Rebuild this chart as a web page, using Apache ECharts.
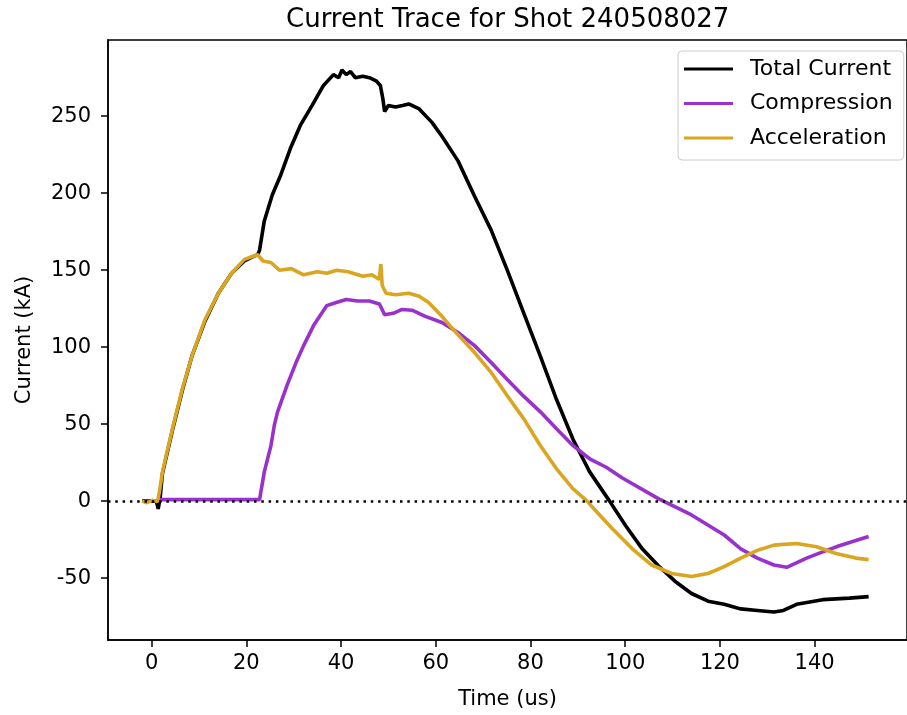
<!DOCTYPE html>
<html>
<head>
<meta charset="utf-8">
<script src="https://cdn.jsdelivr.net/npm/echarts@6/dist/echarts.min.js"></script>
<style>html,body{margin:0;padding:0;background:#fff}#c{width:907px;height:715px}</style>
</head>
<body>
<div id="c"></div>
<script>
// ---- data ----
const seriesNames = ['Total Current', 'Compression', 'Acceleration'];
const xTicks = [0, 20, 40, 60, 80, 100, 120, 140];
const yTicks = [-50, 0, 50, 100, 150, 200, 250];

const timeTotal = [-2, 1.0, 1.4, 1.8, 2.3, 4.4, 6.5, 8.5, 11.3, 14.1, 16.9, 19.6, 21.5, 22.4, 22.8, 23.8, 25.5, 27.3, 29.3, 31.4, 33.9, 36.3, 38.4, 39.5, 40.2, 41.1, 42.0, 43.0, 44.6, 46.0, 47.4, 48.3, 48.8, 49.2, 50.0, 51.5, 53.0, 54.3, 56.4, 59.2, 61.3, 64.7, 68.2, 71.7, 75.1, 78.6, 82.1, 85.5, 89, 92.5, 96.7, 100.1, 103.6, 107, 110.5, 114, 117.5, 120.9, 124.4, 127.9, 131.4, 133.4, 136.2, 141.7, 147.3, 151.4];
const currentTotal = [0, 0, -5, 2, 18, 46, 72, 94, 117, 135, 148, 156, 159, 160, 163, 182, 199, 212, 229, 244, 257, 270, 277, 275, 280, 277, 279, 275, 276, 275, 273, 270, 262, 253, 257, 256, 257, 258, 255, 246, 237, 221, 198, 176, 150, 122, 94, 66, 40, 19, 0, -16, -31, -42, -52, -60, -65, -67, -70, -71, -72, -71, -67, -64, -63, -62];

const timeComp = [1.6, 10, 20, 22.8, 23.8, 25.2, 25.9, 26.6, 28.7, 30.5, 32.1, 34.2, 37, 39, 41.1, 43.5, 46, 48.1, 48.6, 49.2, 51, 52.9, 55, 57.1, 57.8, 61.3, 64.7, 68.2, 71.7, 75.1, 78.6, 82.1, 85.5, 89, 92.5, 96, 99.4, 107, 114, 120.9, 124.4, 127.9, 131.4, 134.1, 138.3, 141.7, 145.2, 151.4];
const currentComp = [1, 1, 1, 1, 19, 36, 49, 58, 76, 90, 101, 114, 127, 129, 131, 130, 130, 128, 125, 121, 122, 124.5, 124, 121, 120, 116, 109.5, 101, 90, 79, 68, 58, 47, 36, 27.5, 22, 15, 1.6, -9, -22, -31, -37, -41.5, -43, -37, -33, -29, -23];

const timeAcc = [-2, -1, 0.2, 1.25, 1.6, 2.3, 4.4, 6.5, 8.5, 11.3, 14.1, 16.9, 19.6, 22.4, 23.5, 25.2, 27, 29.5, 32.1, 35, 37, 39.1, 41.5, 44.6, 46.5, 48.1, 48.4, 48.7, 49.5, 51.5, 54.3, 56.5, 58.5, 61.3, 64.7, 68.2, 71.7, 75.1, 78.6, 82.1, 85.5, 89, 91.8, 94.6, 97.3, 101.5, 105.6, 109.8, 114, 117.5, 120.9, 124.4, 127.9, 131.4, 136.2, 140.4, 144.5, 148.7, 151.4];
const currentAcc = [0, -1, 0.5, -0.3, 5, 19, 47, 73, 94, 118, 135, 148, 157, 160, 156, 155, 150, 151, 147, 149, 148, 150, 149, 146, 147, 144, 154, 140, 135, 134, 135, 133, 129, 120, 108, 96.5, 83.6, 68.4, 53.4, 36, 21, 8, 0.5, -9, -18, -31, -41.5, -47, -49, -47, -42.6, -37, -32, -28.6, -27.5, -29.6, -34, -37, -38];

const zeroLevel = 0;
// ---------------------------------------

const FONT = 'DejaVu Sans';
const pair = (xs, ys) => xs.map((x, i) => [x, ys[i]]);

const chart = echarts.init(document.getElementById('c'), null, {renderer: 'canvas'});
chart.setOption({
  animation: false,
  backgroundColor: '#ffffff',
  title: {
    text: 'Current Trace for Shot 240508027',
    left: 281, top: 2,
    textStyle: {fontSize: 26, fontWeight: 'normal', color: '#000', fontFamily: FONT}
  },
  legend: {
    data: seriesNames,
    orient: 'vertical',
    left: 678, top: 51,
    icon: 'rect',
    itemWidth: 49, itemHeight: 3, itemGap: 10.5,
    padding: [6, 11, 10, 6],
    backgroundColor: '#ffffff',
    borderColor: '#cccccc', borderWidth: 1, borderRadius: 4,
    textStyle: {fontSize: 22, color: '#000', fontFamily: FONT, lineHeight: 24, padding: [0, 0, 0, 12]}
  },
  grid: {
    left: 108, top: 40, right: -11.6, bottom: 71.5,
    show: true, borderColor: '#000', borderWidth: 1.5, backgroundColor: 'transparent'
  },
  xAxis: {
    type: 'value', min: -9.2, max: 159.5,
    name: 'Time (us)', nameLocation: 'middle', nameGap: 49,
    nameTextStyle: {fontSize: 21, color: '#000', fontFamily: FONT},
    axisLine: {show: true, onZero: false, lineStyle: {color: '#000', width: 1.5}},
    axisTick: {show: true, inside: false, customValues: xTicks, length: 7, lineStyle: {color: '#000', width: 1.5}},
    axisLabel: {customValues: xTicks, fontSize: 21, color: '#000', fontFamily: FONT, margin: 13},
    splitLine: {show: false}
  },
  yAxis: {
    type: 'value', min: -90.2, max: 299.5,
    name: 'Current (kA)', nameLocation: 'middle', nameGap: 73,
    nameTextStyle: {fontSize: 21, color: '#000', fontFamily: FONT},
    axisLine: {show: true, onZero: false, lineStyle: {color: '#000', width: 1.5}},
    axisTick: {show: true, inside: false, customValues: yTicks, length: 7, lineStyle: {color: '#000', width: 1.5}},
    axisLabel: {customValues: yTicks, fontSize: 21, color: '#000', fontFamily: FONT, margin: 17},
    splitLine: {show: false}
  },
  series: [
    {name: seriesNames[0], type: 'line', symbol: 'none', data: pair(timeTotal, currentTotal),
     lineStyle: {color: '#000000', width: 3.6}, itemStyle: {color: '#000000'}, z: 2},
    {name: seriesNames[1], type: 'line', symbol: 'none', data: pair(timeComp, currentComp),
     lineStyle: {color: '#9932CC', width: 3.6}, itemStyle: {color: '#9932CC'}, z: 3},
    {name: seriesNames[2], type: 'line', symbol: 'none', data: pair(timeAcc, currentAcc),
     lineStyle: {color: '#DAA520', width: 3.6}, itemStyle: {color: '#DAA520'}, z: 4,
     markLine: {
       silent: true, symbol: 'none', label: {show: false}, z: 10,
       lineStyle: {color: '#000', type: [2.5, 4.8], width: 2.5},
       data: [{yAxis: zeroLevel}]
     }}
  ]
});
</script>
</body>
</html>
